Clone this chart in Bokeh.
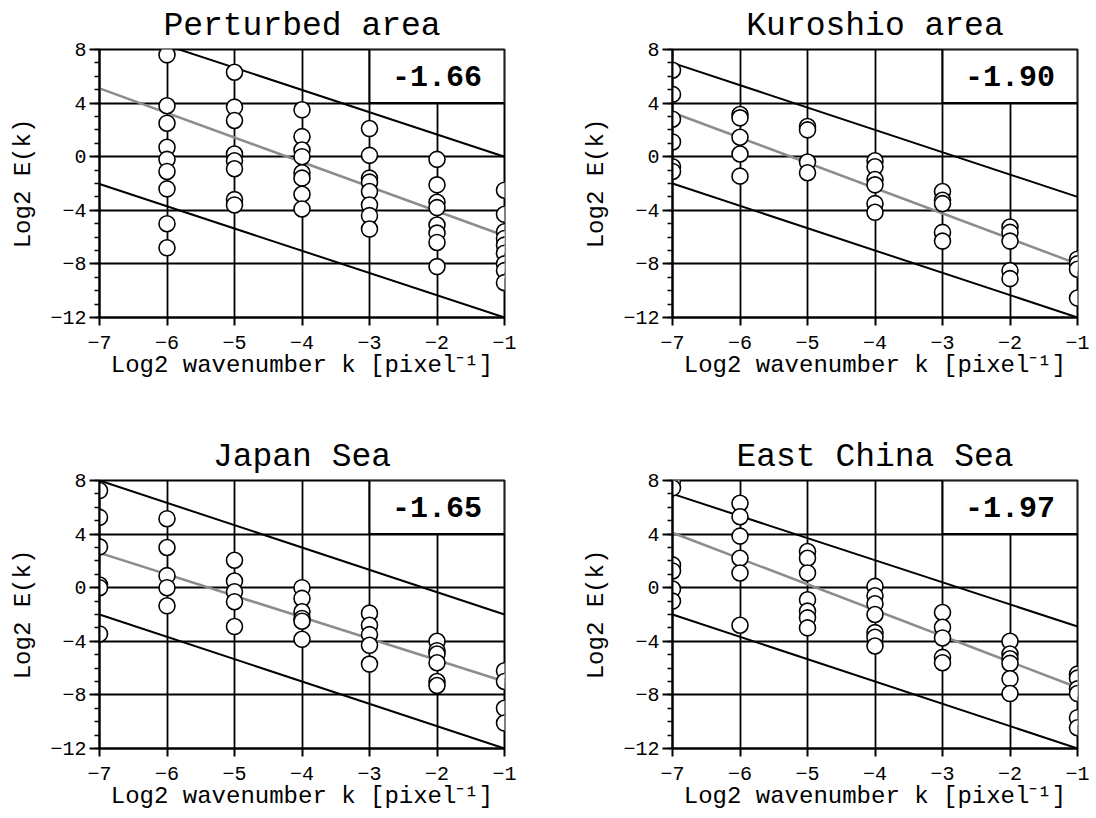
from bokeh.plotting import figure
from bokeh.layouts import column, row
from bokeh.models import FixedTicker, Label
from bokeh.embed import file_html
from bokeh.resources import INLINE

FONT = "Liberation Mono"

x_ticks = [-7, -6, -5, -4, -3, -2, -1]
y_ticks = [-12, -8, -4, 0, 4, 8]
x_label = "Log2 wavenumber k [pixel⁻¹]"
y_label = "Log2 E(k)"

titles = ["Perturbed area", "Kuroshio area", "Japan Sea", "East China Sea"]
slope_labels = ["-1.66", "-1.90", "-1.65", "-1.97"]

# Perturbed area
pert_x = [-6]*9 + [-5]*8 + [-4]*8 + [-3]*8 + [-2]*8 + [-1]*9
pert_y = [7.6, 3.8, 2.5, 0.7, -0.2, -1.1, -2.4, -5.0, -6.8,
          6.3, 3.7, 2.7, 0.2, -0.3, -0.9, -3.2, -3.6,
          3.5, 1.5, 0.5, 0.0, -1.2, -1.6, -2.8, -3.9,
          2.1, 0.1, -1.6, -1.9, -2.6, -3.6, -4.4, -5.4,
          -0.2, -2.1, -3.4, -3.8, -5.1, -5.7, -6.4, -8.2,
          -2.5, -4.3, -5.6, -6.1, -6.6, -7.2, -8.0, -8.5, -9.4]

# Kuroshio area
kuro_x = [-7]*6 + [-6]*5 + [-5]*4 + [-4]*6 + [-3]*5 + [-2]*5 + [-1]*4
kuro_y = [6.45, 4.65, 2.8, 1.1, -0.75, -1.1,
          3.15, 2.9, 1.45, 0.2, -1.45,
          2.25, 2.0, -0.4, -1.2,
          -0.3, -0.75, -1.7, -2.1, -3.5, -4.15,
          -2.6, -3.25, -3.5, -5.65, -6.3,
          -5.25, -5.65, -6.3, -8.5, -9.1,
          -7.65, -8.0, -8.4, -10.55]

# Japan Sea
japan_x = [-7]*6 + [-6]*5 + [-5]*5 + [-4]*6 + [-3]*5 + [-2]*6 + [-1]*4
japan_y = [7.25, 5.25, 3.05, 0.2, 0.0, -3.45,
           5.15, 3.0, 0.9, 0.0, -1.35,
           2.05, 0.5, -0.3, -1.05, -2.9,
           0.0, -0.8, -1.8, -2.3, -2.5, -3.85,
           -1.9, -2.8, -3.5, -4.3, -5.7,
           -4.0, -4.7, -4.95, -5.6, -7.0, -7.3,
           -6.2, -7.0, -9.0, -10.1]

# East China Sea
ecs_x = [-7]*6 + [-6]*6 + [-5]*7 + [-4]*7 + [-3]*5 + [-2]*6 + [-1]*6
ecs_y = [8.0, 7.45, 1.7, 1.25, -0.1, -1.0,
         6.3, 5.3, 3.85, 2.2, 1.1, -2.8,
         2.7, 2.2, 1.1, -0.9, -1.75, -2.25, -3.0,
         0.1, -0.6, -1.2, -2.0, -3.35, -3.7, -4.35,
         -1.85, -2.95, -3.75, -5.2, -5.6,
         -4.0, -4.95, -5.3, -5.65, -6.8, -7.9,
         -6.45, -6.75, -7.55, -7.9, -9.7, -10.45]

line_x = [-7, -1]
upper_y = [[9.96, 0.0], [7.0, -3.0], [8.0, -2.0], [7.0, -2.9]]
lower_y = [[-2.04, -12.0], [-2.0, -12.0], [-2.0, -12.0], [-2.0, -12.0]]
fit_y = [[5.1, -5.9], [3.3, -8.0], [2.6, -7.0], [4.1, -7.45]]

data_x = [pert_x, kuro_x, japan_x, ecs_x]
data_y = [pert_y, kuro_y, japan_y, ecs_y]

borders = [  # left, right, top, bottom
    (99, 44, 49, 92),
    (124, 19, 49, 92),
    (99, 44, 71, 70),
    (124, 19, 71, 70),
]


def make_panel(i):
    bl, br, bt, bb = borders[i]
    p = figure(width=548, height=409, x_range=(-7, -1), y_range=(-12, 8),
               output_backend="svg", toolbar_location=None,
               min_border_left=bl, min_border_right=br,
               min_border_top=bt, min_border_bottom=bb,
               background_fill_color="white", border_fill_color="white")
    p.title.text = titles[i]
    p.title.align = "center"
    p.title.text_font = FONT
    p.title.text_font_size = "33px"
    p.title.text_font_style = "normal"
    p.title.text_color = "black"
    p.title.standoff = 9

    p.outline_line_color = "black"
    p.outline_line_width = 2
    p.outline_line_alpha = 1

    p.xaxis.ticker = FixedTicker(ticks=x_ticks)
    p.yaxis.ticker = FixedTicker(ticks=y_ticks, minor_ticks=list(range(-12, 9)))
    p.xgrid.ticker = FixedTicker(ticks=x_ticks)
    p.ygrid.ticker = FixedTicker(ticks=y_ticks)
    for g in (p.xgrid, p.ygrid):
        g.grid_line_color = "black"
        g.grid_line_width = 1.8
        g.grid_line_alpha = 1

    for ax in (p.xaxis, p.yaxis):
        ax.axis_line_width = 2
        ax.axis_line_color = "black"
        ax.major_tick_line_width = 2
        ax.major_tick_line_color = "black"
        ax.minor_tick_line_width = 1.5
        ax.minor_tick_line_color = "black"
        ax.major_label_text_font = FONT
        ax.major_label_text_font_size = "20px"
        ax.major_label_text_color = "black"
        ax.axis_label_text_font = FONT
        ax.axis_label_text_font_size = "24px"
        ax.axis_label_text_font_style = "normal"
        ax.axis_label_text_color = "black"

    p.xaxis.major_tick_out = 8
    p.xaxis.major_tick_in = 0
    p.xaxis.minor_tick_line_color = None
    p.xaxis.major_label_standoff = 10
    p.xaxis.axis_label = x_label
    p.xaxis.axis_label_standoff = 0

    p.yaxis.major_tick_out = 10
    p.yaxis.major_tick_in = 0
    p.yaxis.minor_tick_out = 5
    p.yaxis.minor_tick_in = 0
    p.yaxis.major_label_standoff = 3
    p.yaxis.axis_label = y_label
    p.yaxis.axis_label_standoff = 10

    # slope label box
    p.quad(left=[-3], right=[-1], bottom=[4], top=[8],
           fill_color="white", line_color="black", line_width=2)
    p.add_layout(Label(x=-2, y=6, text=slope_labels[i], text_align="center",
                       text_baseline="middle", text_font=FONT,
                       text_font_size="30px", text_font_style="bold",
                       text_color="black"))

    p.line(line_x, upper_y[i], line_color="black", line_width=2)
    p.line(line_x, lower_y[i], line_color="black", line_width=2)
    p.line(line_x, fit_y[i], line_color="#8c8c8c", line_width=2.5)

    p.scatter(data_x[i], data_y[i], size=16, marker="circle",
              fill_color="white", line_color="black", line_width=1.6)
    return p


panels = [make_panel(i) for i in range(4)]
layout = column(row(panels[0], panels[1]), row(panels[2], panels[3]))

open("out.html", "w").write(file_html(layout, INLINE))
